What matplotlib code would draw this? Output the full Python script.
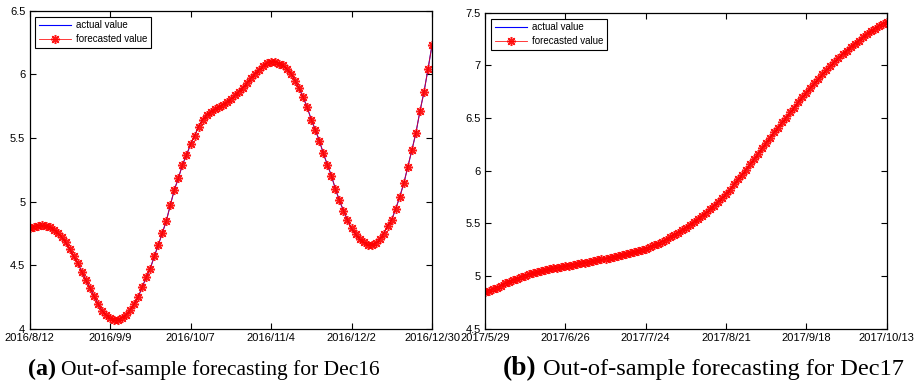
import matplotlib
matplotlib.use('Agg')
import matplotlib.pyplot as plt

# Dec16 contract, out-of-sample window (trading-day index 0..100)
dec16_ticklabels = ['2016/8/12', '2016/9/9', '2016/10/7', '2016/11/4', '2016/12/2', '2016/12/30']
dec16_actual = [
    4.79, 4.80, 4.81, 4.815, 4.81, 4.80, 4.78, 4.755, 4.72, 4.68,
    4.63, 4.57, 4.52, 4.45, 4.385, 4.325, 4.26, 4.20, 4.145, 4.11,
    4.085, 4.068, 4.07, 4.09, 4.11, 4.15, 4.195, 4.25, 4.33, 4.405,
    4.475, 4.57, 4.66, 4.755, 4.85, 4.975, 5.095, 5.185, 5.29, 5.365,
    5.45, 5.515, 5.59, 5.645, 5.68, 5.705, 5.725, 5.74, 5.76, 5.78,
    5.805, 5.835, 5.865, 5.895, 5.93, 5.97, 6.005, 6.035, 6.065, 6.09,
    6.10, 6.10, 6.085, 6.07, 6.04, 6.005, 5.95, 5.89, 5.82, 5.74,
    5.645, 5.565, 5.48, 5.38, 5.29, 5.205, 5.10, 5.01, 4.93, 4.855,
    4.79, 4.745, 4.705, 4.68, 4.663, 4.66, 4.672, 4.705, 4.75, 4.81,
    4.86, 4.945, 5.04, 5.145, 5.275, 5.405, 5.54, 5.71, 5.86, 6.04,
    6.23]
# forecast sits on top of the actual curve, can't tell them apart
dec16_forecast = list(dec16_actual)

# Dec17 contract
dec17_ticklabels = ['2017/5/29', '2017/6/26', '2017/7/24', '2017/8/21', '2017/9/18', '2017/10/13']
dec17_actual = [
    4.845, 4.86, 4.875, 4.89, 4.91, 4.93, 4.945, 4.96, 4.975, 4.99,
    5.005, 5.015, 5.025, 5.035, 5.045, 5.055, 5.065, 5.072, 5.08, 5.087,
    5.095, 5.10, 5.108, 5.115, 5.12, 5.127, 5.135, 5.142, 5.15, 5.157,
    5.165, 5.172, 5.18, 5.188, 5.195, 5.205, 5.215, 5.225, 5.235, 5.248,
    5.26, 5.275, 5.29, 5.305, 5.325, 5.345, 5.367, 5.39, 5.412, 5.435,
    5.46, 5.487, 5.512, 5.54, 5.57, 5.60, 5.632, 5.668, 5.703, 5.74,
    5.78, 5.82, 5.87, 5.918, 5.962, 6.01, 6.06, 6.11, 6.16, 6.213,
    6.265, 6.315, 6.365, 6.41, 6.46, 6.505, 6.555, 6.60, 6.65, 6.697,
    6.742, 6.785, 6.828, 6.87, 6.915, 6.955, 6.995, 7.035, 7.07, 7.107,
    7.14, 7.172, 7.205, 7.235, 7.265, 7.295, 7.325, 7.35, 7.375, 7.395,
    7.415]
dec17_forecast = list(dec17_actual)

plt.rcParams['font.family'] = ['Liberation Sans', 'DejaVu Sans']

W, H = 918, 382
fig = plt.figure(figsize=(W / 100, H / 100), dpi=100)

# matlab style asterisk: + and x on top of each other
STAR = (8, 2, 0)


def panel(rect, actual, forecast, ticklabels, ylim, yticks):
    ax = fig.add_axes([rect[0] / W, 1 - rect[3] / H, (rect[2] - rect[0]) / W, (rect[3] - rect[1]) / H])
    x = list(range(len(actual)))
    ax.plot(x, actual, color='blue', lw=0.8, label='actual value')
    ax.plot(x, forecast, color='red', lw=0.6, marker=STAR, ms=6.5, mew=1.1,
            label='forecasted value', alpha=0.9)
    ax.set_xlim(0, len(actual) - 1)
    ax.set_ylim(*ylim)
    ax.set_xticks(range(0, len(actual), 20))
    ax.set_xticklabels(ticklabels)
    ax.set_yticks(yticks)
    ax.set_yticklabels(['%g' % v for v in yticks])
    ax.tick_params(direction='in', top=True, right=True, labelsize=8, length=4, width=0.8, pad=3)
    for s in ax.spines.values():
        s.set_linewidth(0.9)
    leg = ax.legend(loc='upper left', fontsize=7, handlelength=3.3, fancybox=False,
                    edgecolor='black', framealpha=1, borderaxespad=0.6, labelspacing=0.4,
                    handletextpad=0.5)
    leg.get_frame().set_linewidth(0.8)
    return ax


panel((29.5, 10.7, 432, 329), dec16_actual, dec16_forecast, dec16_ticklabels,
      (4, 6.5), [4, 4.5, 5, 5.5, 6, 6.5])
panel((485, 12.7, 886.7, 328.7), dec17_actual, dec17_forecast, dec17_ticklabels,
      (4.5, 7.5), [4.5, 5, 5.5, 6, 6.5, 7, 7.5])

# captions: bold letter + serif text
fig.canvas.draw()
renderer = fig.canvas.get_renderer()


def caption(x0, letter, text, size):
    t1 = fig.text(x0 / W, 1 - 375 / H, letter, fontsize=size * 1.12, fontweight='bold',
                  family='Liberation Serif', va='baseline')
    bb = t1.get_window_extent(renderer)
    fig.text((bb.x1 + size * 0.35) / W, 1 - 375 / H, text, fontsize=size,
             family='Liberation Serif', va='baseline')


caption(28, '(a)', 'Out-of-sample forecasting for Dec16', 15.5)
caption(503, '(b)', 'Out-of-sample forecasting for Dec17', 17.6)

fig.savefig('out.png', dpi=100)
